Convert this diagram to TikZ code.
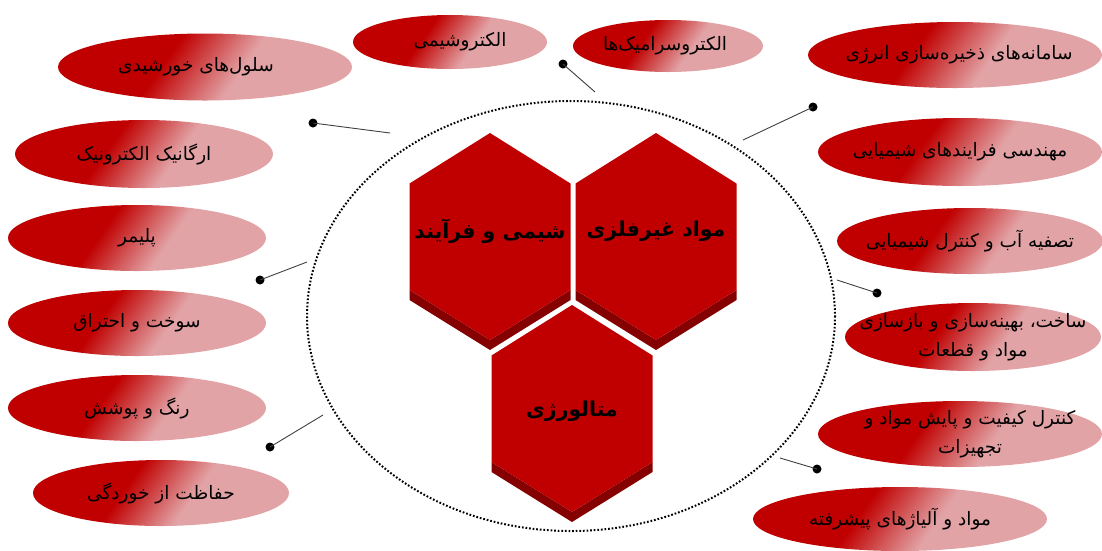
\documentclass[tikz,border=0pt]{standalone}
\usepackage{fontspec}
\usetikzlibrary{shapes.geometric}
\TeXXeTstate=1
\newfontfamily\farsi[Script=Arabic]{DejaVu Sans}
\newcommand\fa[1]{\beginR #1\endR}

\definecolor{hexred}{HTML}{C00000}
\definecolor{hexshade}{HTML}{850000}
\definecolor{elldark}{HTML}{C00000}
\definecolor{elllight}{HTML}{E2A3A6}
\definecolor{linkgray}{HTML}{404040}

\pgfdeclarehorizontalshading{ovalgrad}{100bp}{color(0bp)=(elldark); color(41bp)=(elldark); color(58bp)=(elllight); color(100bp)=(elllight)}

\tikzset{
  oval/.style={ellipse, shading=ovalgrad, shading angle=-35, inner sep=0pt, draw=none},
  ovaltext/.style={text=black, align=center, inner sep=0pt, font=\farsi\fontsize{18.5}{29}\selectfont},
  hextext/.style={text=black, inner sep=0pt, font=\farsi\bfseries\fontsize{20.5}{26}\selectfont},
  dotend/.style={circle, fill=black, minimum size=9pt, inner sep=0pt},
  link/.style={draw=linkgray, line width=0.9pt},
  ring/.style={draw=black, line width=2pt, dash pattern=on 1.7pt off 1.9pt}
}

% one hexagonal cell: flat face plus a darker rim along its two lower edges
\newcommand\hexcell[2]{%
  \fill[hexshade] ({#1-80.5},{#2+53.5}) -- (#1,{#2+103.5}) -- ({#1+80.5},{#2+53.5})
     -- ({#1+80.5},{#2+63.5}) -- (#1,{#2+113.5}) -- ({#1-80.5},{#2+63.5}) -- cycle;
  \fill[hexred] (#1,{#2-103.5}) -- ({#1+80.5},{#2-53}) -- ({#1+80.5},{#2+53.5})
     -- (#1,{#2+103.5}) -- ({#1-80.5},{#2+53.5}) -- ({#1-80.5},{#2-53}) -- cycle;
}

\begin{document}
\begin{tikzpicture}[x=1pt, y=-1pt]
\useasboundingbox (0,0) rectangle (1102,550);

% dotted ring around the three cells
\draw[ring] (571,316) ellipse [x radius=264, y radius=215];

% the three cells
\hexcell{490}{236.5}
\hexcell{656}{236.5}
\hexcell{572}{408.5}
\node[hextext] (hchem) at (490,231) {\fa{شیمی و فرآیند}};
\node[hextext] (hnonmet) at (656,231) {\fa{مواد غیرفلزی}};
\node[hextext] (hmet) at (572,411) {\fa{متالورژی}};

% surrounding topics
\node[oval, minimum width=294pt, minimum height=67pt] (o1) at (205,67) {};
\node[oval, minimum width=258pt, minimum height=68pt] (o2) at (144,154) {};
\node[oval, minimum width=194pt, minimum height=54pt] (o3) at (450,42) {};
\node[oval, minimum width=190pt, minimum height=52pt] (o4) at (668,46) {};
\node[oval, minimum width=294pt, minimum height=66pt] (o5) at (955,55) {};
\node[oval, minimum width=284pt, minimum height=68pt] (o6) at (960,152) {};
\node[oval, minimum width=258pt, minimum height=66pt] (o7) at (137,238) {};
\node[oval, minimum width=258pt, minimum height=66pt] (o8) at (137,323) {};
\node[oval, minimum width=258pt, minimum height=66pt] (o9) at (137,408) {};
\node[oval, minimum width=256pt, minimum height=66pt] (o10) at (161,493) {};
\node[oval, minimum width=266pt, minimum height=66pt] (o11) at (970,241) {};
\node[oval, minimum width=256pt, minimum height=68pt] (o12) at (973,337) {};
\node[oval, minimum width=284pt, minimum height=66pt] (o13) at (960,434) {};
\node[oval, minimum width=294pt, minimum height=64pt] (o14) at (900,519) {};

\node[ovaltext] (t1) at ([xshift=-9pt]o1) {\fa{سلول^^^^200cهای خورشیدی}};
\node[ovaltext] (t2) at (o2) {\fa{ارگانیک الکترونیک}};
\node[ovaltext] (t3) at ([xshift=10pt]o3) {\fa{الکتروشیمی}};
\node[ovaltext] (t4) at ([xshift=-3pt]o4) {\fa{الکتروسرامیک^^^^200cها}};
\node[ovaltext] (t5) at ([xshift=4pt]o5) {\fa{سامانه^^^^200cهای ذخیره^^^^200cسازی انرژی}};
\node[ovaltext] (t6) at (o6) {\fa{مهندسی فرایندهای شیمیایی}};
\node[ovaltext] (t7) at (o7) {\fa{پلیمر}};
\node[ovaltext] (t8) at (o8) {\fa{سوخت و احتراق}};
\node[ovaltext] (t9) at (o9) {\fa{رنگ و پوشش}};
\node[ovaltext] (t10) at (o10) {\fa{حفاظت از خوردگی}};
\node[ovaltext] (t11) at (o11) {\fa{تصفیه آب و کنترل شیمیایی}};
\node[ovaltext] (t12) at (o12) {\fa{ساخت، بهینه^^^^200cسازی و بازسازی}\\\fa{مواد و قطعات}};
\node[ovaltext] (t13) at ([xshift=10pt]o13) {\fa{کنترل کیفیت و پایش مواد و}\\\fa{تجهیزات}};
\node[ovaltext] (t14) at (o14) {\fa{مواد و آلیاژهای پیشرفته}};

% pointers from the ring out to the topic columns
\coordinate (c1) at (390,133);
\coordinate (c2) at (595,92);
\coordinate (c3) at (743,140);
\coordinate (c4) at (307,262);
\coordinate (c5) at (323,415);
\coordinate (c6) at (837,280);
\coordinate (c7) at (780,458);
\node[dotend] (d1) at (313,123) {};
\node[dotend] (d2) at (563,64) {};
\node[dotend] (d3) at (813,107) {};
\node[dotend] (d4) at (260,280) {};
\node[dotend] (d5) at (270,447) {};
\node[dotend] (d6) at (877,293) {};
\node[dotend] (d7) at (817,469) {};
\foreach \i in {1,...,7} \draw[link] (c\i) -- (d\i.center);
\end{tikzpicture}
\end{document}
